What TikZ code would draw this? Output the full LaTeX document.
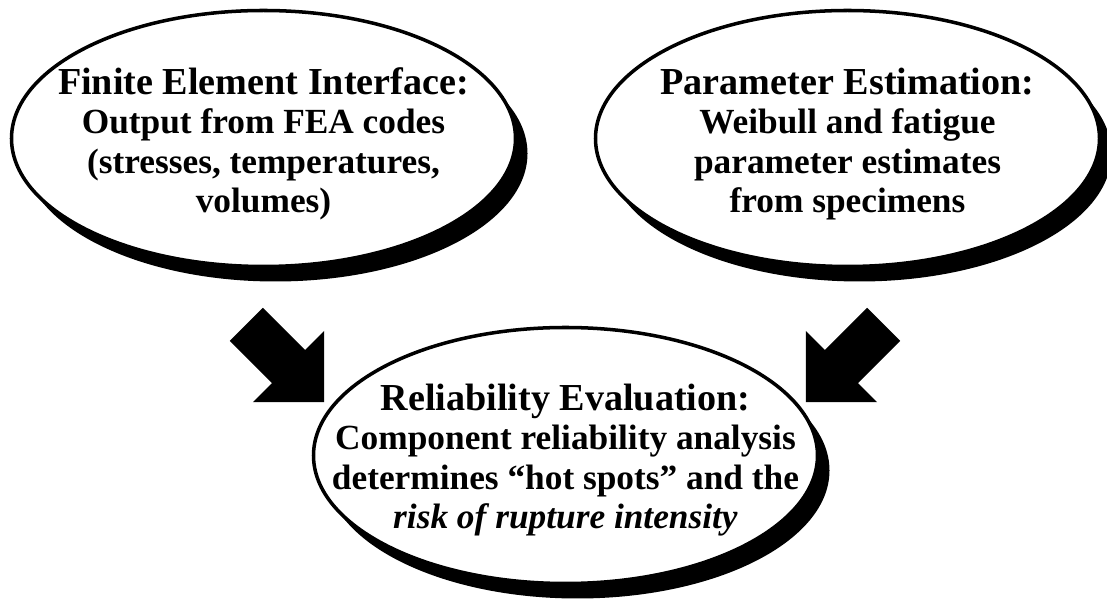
\documentclass[tikz,border=0pt]{standalone}
\usepackage{fontspec}
\setmainfont{Liberation Serif}
\usetikzlibrary{positioning,shapes.geometric,shapes.arrows,shadows}
\newcommand{\flowhead}{\fontsize{21.7}{22.5}\selectfont}
\tikzset{
  flow/oval/.style={
    ellipse,
    draw=black,
    line width=2pt,
    fill=white,
    minimum width=10.08cm,
    minimum height=5.12cm,
    inner sep=0pt,
    drop shadow={shadow xshift=0.24cm, shadow yshift=-0.3cm, fill=black, opacity=1}
  },
  flow/text/.style={
    align=center,
    inner sep=0pt,
    font=\bfseries\fontsize{20.1}{22.5}\selectfont
  },
  flow/bigarrow/.style={
    single arrow,
    fill=black,
    single arrow head extend=0.54cm,
    single arrow tip angle=90,
    minimum height=2.2cm,
    inner xsep=0pt,
    inner ysep=0.46cm
  }
}

\begin{document}
\begin{tikzpicture}[x=1cm,y=1cm]
  \useasboundingbox (0,0) rectangle (22.14,11.98);
  % the three stages
  \node[flow/oval] (fea) at (5.27,9.21) {};
  \node[flow/oval] (param) at (16.95,9.21) {};
  \node[flow/oval] (rel) at (11.31,2.87) {};
  \node[flow/text] (fea-txt) at ([yshift=-0.11cm]fea.center)
    {{\flowhead Finite Element Interface:}\\Output from FEA codes\\(stresses, temperatures,\\volumes)};
  \node[flow/text] (param-txt) at ([yshift=-0.11cm]param.center)
    {{\flowhead Parameter Estimation:}\\Weibull and fatigue\\parameter estimates\\from specimens};
  \node[flow/text] (rel-txt) at ([yshift=-0.09cm]rel.center)
    {{\flowhead Reliability Evaluation:}\\Component reliability analysis\\determines “hot spots” and the\\\textit{risk of rupture intensity}};
  % block arrows feeding the evaluation
  \node[flow/bigarrow, rotate=-45] (fea-arr) at (5.54,4.88) {};
  \node[flow/bigarrow, rotate=-135] (param-arr) at (17.06,4.88) {};
\end{tikzpicture}
\end{document}
